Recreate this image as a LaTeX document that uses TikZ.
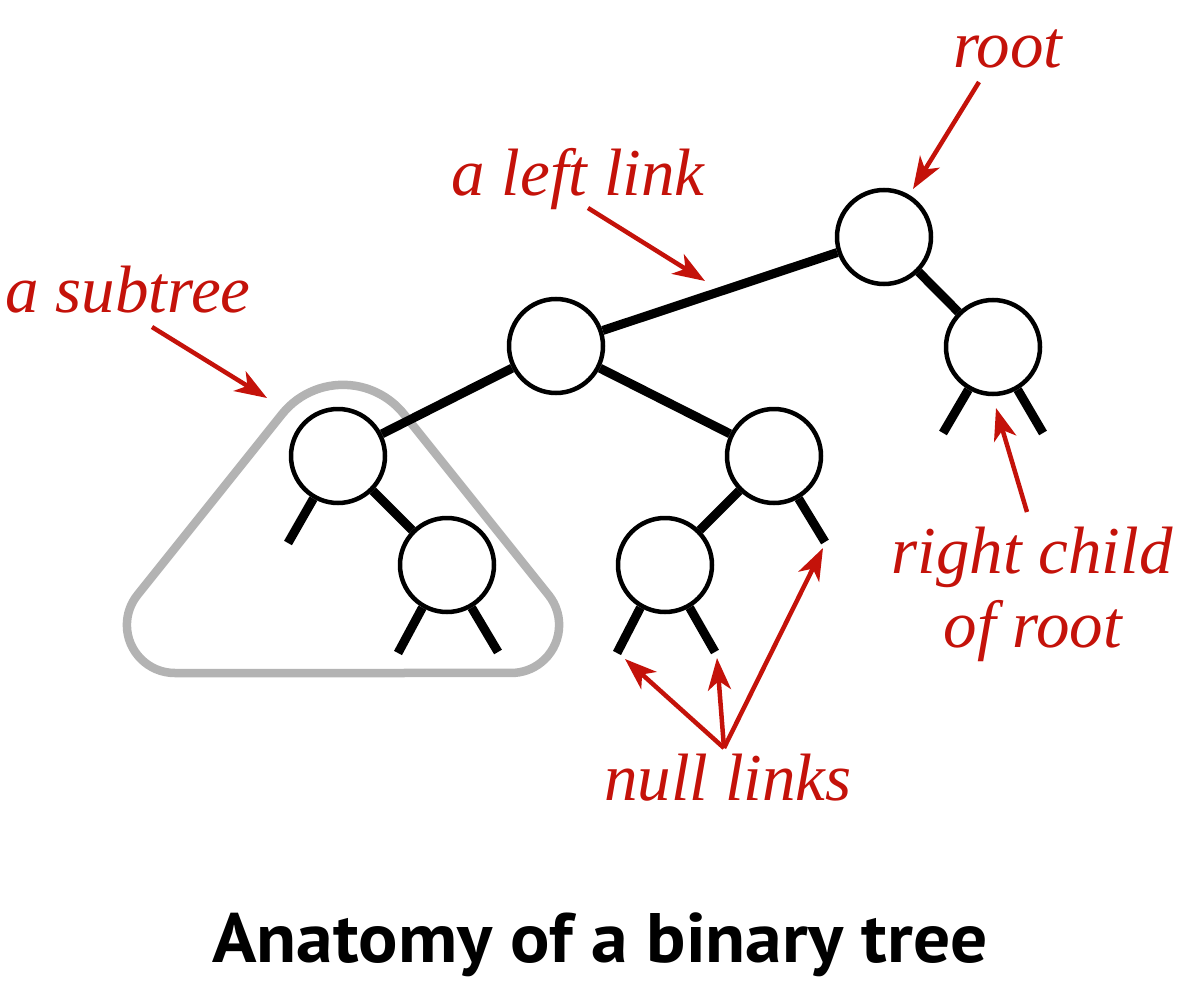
\documentclass[tikz,border=0pt]{standalone}
\usepackage{fontspec}
\setmainfont{Liberation Serif}
\newfontfamily\capfont{PT Sans}
\usetikzlibrary{arrows.meta}
\definecolor{lblred}{RGB}{196,18,10}
\definecolor{subgrey}{RGB}{179,179,179}
\tikzset{
 treenode/.style={circle, draw=black, line width=4.5pt, fill=white, minimum size=94pt, inner sep=0pt},
 link/.style={line width=9pt, black},
 nulllink/.style={line width=9pt, black},
 lbl/.style={text=lblred, font=\fontsize{67}{80}\selectfont\itshape, anchor=base, inner sep=0pt},
 pointer/.style={draw=lblred, line width=4.5pt, -{Stealth[length=32pt,width=23pt,inset=9pt]}},
 captionlbl/.style={font=\capfont\bfseries\fontsize{70}{84}\selectfont, anchor=base, inner sep=0pt},
 subtreebox/.style={draw=subgrey, line width=8.5pt}
}
\begin{document}
\begin{tikzpicture}[x=1pt,y=-1pt]
\useasboundingbox (0,0) rectangle (1200,982);
% subtree outline (rounded triangle)
\draw[subtreebox] (343,673) -- (174.9,673)
  arc[start angle=90, end angle=218.66, radius=48]
  -- (282.1,414.1)
  arc[start angle=218.66, end angle=321.34, radius=78]
  -- (548.6,595.0)
  arc[start angle=321.34, end angle=450, radius=48]
  -- cycle;
% tree nodes
\node[treenode] (root) at (884,237) {};
\node[treenode] (R) at (993,347) {};
\node[treenode] (A) at (556,346) {};
\node[treenode] (B) at (338,456) {};
\node[treenode] (C) at (774,456) {};
\node[treenode] (D) at (447,565) {};
\node[treenode] (E) at (665,565) {};
% links
\draw[link] (root) -- (A);
\draw[link] (root) -- (R);
\draw[link] (A) -- (B);
\draw[link] (A) -- (C);
\draw[link] (B) -- (D);
\draw[link] (C) -- (E);
% null links
\coordinate (Rl) at (943,433);
\coordinate (Rr) at (1043,433);
\coordinate (Bl) at (288,543);
\coordinate (Dl) at (398,653);
\coordinate (Dr) at (498,652);
\coordinate (El) at (617,653);
\coordinate (Er) at (715,652);
\coordinate (Cr) at (825,542);
\draw[nulllink] (R.240) -- (Rl);
\draw[nulllink] (R.300) -- (Rr);
\draw[nulllink] (B.240) -- (Bl);
\draw[nulllink] (D.240) -- (Dl);
\draw[nulllink] (D.300) -- (Dr);
\draw[nulllink] (E.240) -- (El);
\draw[nulllink] (E.300) -- (Er);
\draw[nulllink] (C.300) -- (Cr);
% labels
\node[lbl] (lroot) at (1008,68) {root};
\node[lbl] (lleft) at (578,195) {a left link};
\node[lbl] (lsub) at (128,312) {a subtree};
\node[lbl] (lrc1) at (1032,573) {right child};
\node[lbl] (lrc2) at (1033,647) {of root};
\node[lbl] (lnull) at (728,800) {null links};
\node[captionlbl] (cap) at (600,962) {\scalebox{1.05}[1]{Anatomy of a binary tree}};
% pointers
\coordinate (prootA) at (979,82);
\coordinate (prootB) at (913,189);
\coordinate (pleftA) at (588,208);
\coordinate (pleftB) at (705,281);
\coordinate (psubA) at (152,327);
\coordinate (psubB) at (267,398);
\coordinate (prcA) at (1027,512);
\coordinate (prcB) at (996,408);
\coordinate (pnull) at (724,748);
\coordinate (pn1) at (625,659);
\coordinate (pn2) at (717,658);
\coordinate (pn3) at (823,548);
\draw[pointer] (prootA) -- (prootB);
\draw[pointer] (pleftA) -- (pleftB);
\draw[pointer] (psubA) -- (psubB);
\draw[pointer] (prcA) -- (prcB);
\draw[pointer] (pnull) -- (pn1);
\draw[pointer] (pnull) -- (pn2);
\draw[pointer] (pnull) -- (pn3);
\end{tikzpicture}
\end{document}
